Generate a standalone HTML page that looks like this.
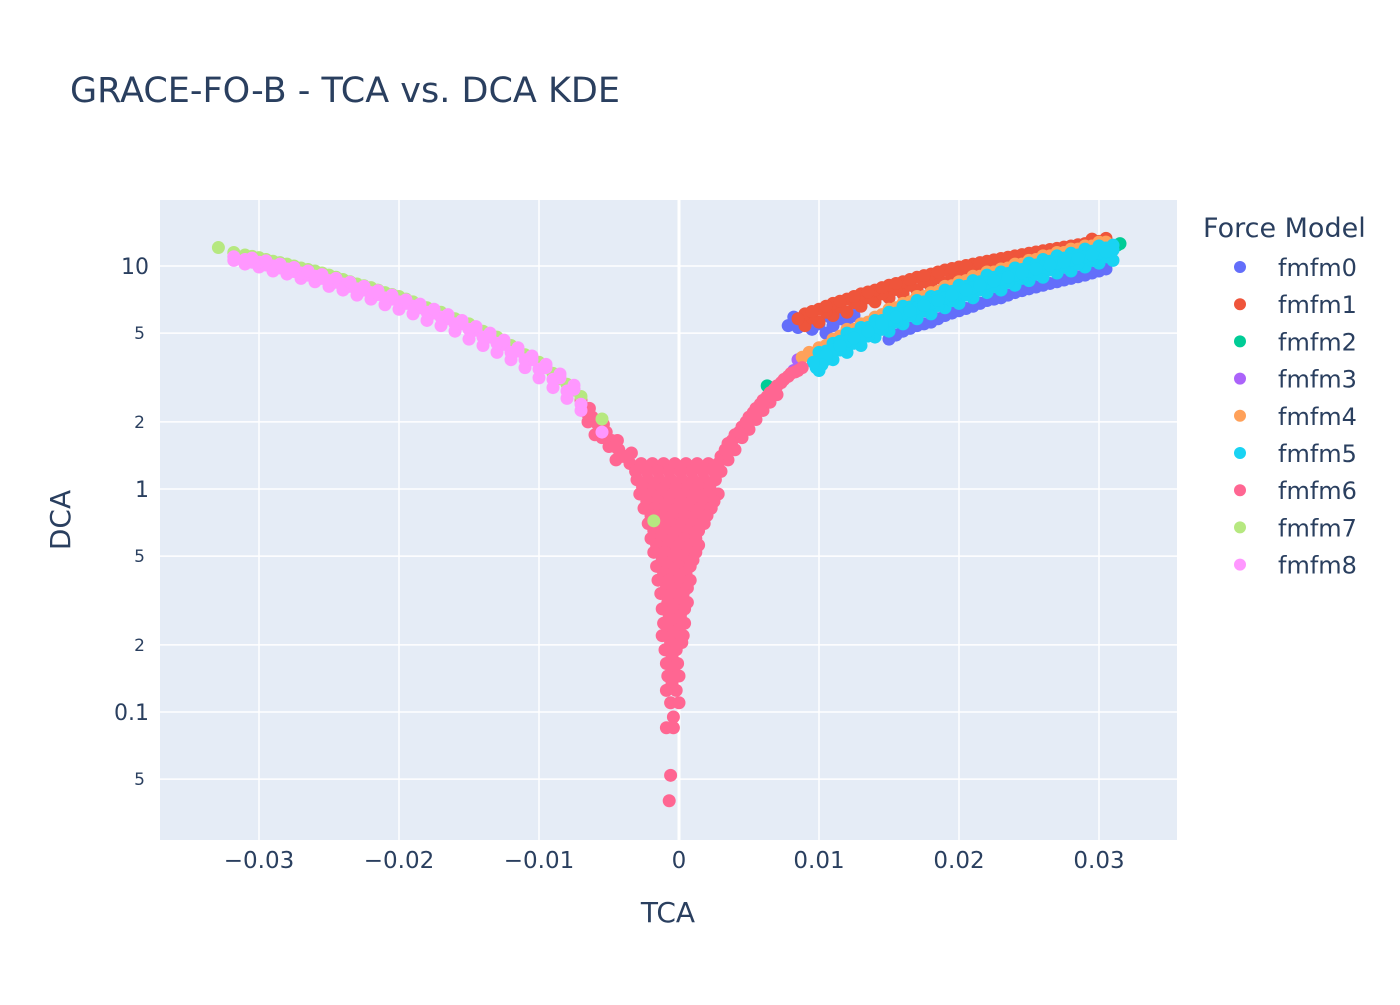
<!DOCTYPE html>
<html><head><meta charset="utf-8"><style>
body{margin:0;background:#fff;}
svg text{font-family:"DejaVu Sans","Liberation Sans",sans-serif;fill:#2a3f5f;}
</style></head><body>
<svg id="chart" width="1400" height="1000" xmlns="http://www.w3.org/2000/svg">
<rect width="1400" height="1000" fill="#fff"/>
<text x="70" y="102" font-size="35">GRACE-FO-B - TCA vs. DCA KDE</text>
<rect x="160" y="200" width="1017" height="640" fill="#E5ECF6"/>
<g id="grid"></g><g id="marks"></g><g id="ticks"></g>
<text x="668" y="922" font-size="28" text-anchor="middle">TCA</text>
<text x="70" y="520" font-size="28" text-anchor="middle" transform="rotate(-90 70 520)">DCA</text>
<g id="legend"><text x="1203" y="237" font-size="27">Force Model</text></g>
</svg>
<script>
const seriesNames=["fmfm0","fmfm1","fmfm2","fmfm3","fmfm4","fmfm5","fmfm6","fmfm7","fmfm8"];
const colors=["#636efa","#EF553B","#00cc96","#ab63fa","#FFA15A","#19d3f3","#FF6692","#B6E880","#FF97FF"];
const xTicks=[-0.03,-0.02,-0.01,0,0.01,0.02,0.03];
const xTickLabels=["−0.03","−0.02","−0.01","0","0.01","0.02","0.03"];
const yTicks=[10,5,2,1,0.5,0.2,0.1,0.05];
const yTickLabels=["10","5","2","1","5","2","0.1","5"];
const yTickMajor=[true,false,false,true,false,false,true,false];

const gridT=[0.009,0.010,0.011,0.012,0.013,0.014,0.015,0.016,0.017,0.018,0.019,0.020,0.021,0.022,0.023,0.024,0.025,0.026,0.027,0.028,0.029,0.030];
const gridTHalf=[0.0095,0.0105,0.0115,0.0125,0.0135,0.0145,0.0155,0.0165,0.0175,0.0185,0.0195,0.0205,0.0215,0.0225,0.0235,0.0245,0.0255,0.0265,0.0275,0.0285,0.0295,0.0305];
const cyanT=[0.010,0.011,0.012,0.013,0.014,0.015,0.016,0.017,0.018,0.019,0.020,0.021,0.022,0.023,0.024,0.025,0.026,0.027,0.028,0.029,0.030,0.031];
const cyanTHalf=[0.0105,0.0115,0.0125,0.0135,0.0145,0.0155,0.0165,0.0175,0.0185,0.0195,0.0205,0.0215,0.0225,0.0235,0.0245,0.0255,0.0265,0.0275,0.0285,0.0295,0.0305];
const fmfm0Cluster=[[0.0078,5.4],[0.0082,5.9],[0.0088,5.6],[0.0095,5.2],[0.0105,5.0],[0.011,5.4],[0.0115,5.8],[0.012,5.6],[0.0125,6.0],[0.0092,6.0],[0.0085,5.3],[0.010,5.5],[0.0108,5.9]];
const fmfm0T=[0.015,0.016,0.017,0.018,0.019,0.020,0.021,0.022,0.023,0.024,0.025,0.026,0.027,0.028,0.029,0.030];
const fmfm0D=[4.7,5.1,5.4,5.6,6.0,6.3,6.6,7.0,7.2,7.6,7.9,8.2,8.5,8.8,9.1,9.5];
const fmfm0THalf=[0.0155,0.0165,0.0175,0.0185,0.0195,0.0205,0.0215,0.0225,0.0235,0.0245,0.0255,0.0265,0.0275,0.0285,0.0295,0.0305];
const fmfm0DHalf=[4.9,5.25,5.5,5.8,6.15,6.45,6.8,7.1,7.4,7.75,8.05,8.35,8.65,8.95,9.3,9.7];
const fmfm0Upper=[6.0,6.3,6.6,7.0,7.3,7.6,8.0,8.3,8.6,8.9,9.2,9.5,9.8,10.1,10.4,10.7];
const fmfm1Hi=[6.1,6.4,6.8,7.1,7.5,7.8,8.2,8.5,8.9,9.2,9.6,9.9,10.2,10.5,10.8,11.1,11.4,11.7,12.0,12.3,12.6,12.9];
const fmfm1Lo=[5.4,5.6,6.0,6.2,6.6,6.9,7.2,7.5,7.8,8.1,8.4,8.7,9.0,9.2,9.5,9.8,10.0,10.3,10.6,10.8,11.1,11.4];
const fmfm1HiHalf=[6.25,6.6,6.95,7.3,7.65,8.0,8.35,8.7,9.05,9.4,9.75,10.05,10.35,10.65,10.95,11.25,11.55,11.85,12.15,12.45,12.75,13.1];
const fmfm1MidHalf=[5.85,6.2,6.55,6.85,7.2,7.5,7.85,8.2,8.5,8.85,9.15,9.45,9.75,10.0,10.3,10.6,10.85,11.15,11.4,11.7,12.0,12.3];
const fmfm1Extra=[[0.0305,13.3],[0.0085,5.8],[0.0295,13.2]];
const fmfm2Points=[[0.0063,2.9],[0.0315,12.6],[0.0313,12.4]];
const fmfm3Points=[[0.0085,3.8],[0.0082,3.4],[0.0095,3.9]];
const fmfm4D=[4.3,4.7,5.2,5.5,5.9,6.4,6.8,7.3,7.6,8.1,8.5,9.0,9.4,9.7,10.2,10.6,11.1,11.5,11.9,12.3,12.8];
const fmfm4DHalf=[4.4,4.85,5.2,5.6,6.05,6.5,6.9,7.3,7.7,8.15,8.6,9.0,9.4,9.8,10.2,10.7,11.1,11.5,11.9,12.3,12.8];
const fmfm4Extra=[[0.0088,3.9],[0.0093,4.1]];
const fmfm5Mid=[3.8,4.2,4.6,4.9,5.3,5.7,6.1,6.5,6.8,7.2,7.6,8.0,8.4,8.7,9.1,9.5,9.9,10.3,10.6,11.0,11.4,11.8];
const fmfm5Lo=[3.4,3.8,4.1,4.4,4.8,5.1,5.5,5.8,6.1,6.5,6.8,7.2,7.6,7.8,8.2,8.6,8.9,9.3,9.5,9.9,10.3,10.6];
const fmfm5Hi=[4.1,4.5,5.0,5.3,5.7,6.2,6.6,7.0,7.3,7.8,8.2,8.6,9.1,9.4,9.8,10.3,10.7,11.1,11.4,11.9,12.3,12.4];
const fmfm5MidHalf=[4.0,4.4,4.75,5.1,5.5,5.9,6.3,6.65,7.0,7.4,7.8,8.2,8.55,8.9,9.3,9.7,10.1,10.45,10.8,11.2,11.6];
const fmfm5LoHalf=[3.8,4.2,4.5,4.85,5.2,5.6,6.0,6.3,6.65,7.0,7.4,7.8,8.1,8.45,8.8,9.2,9.6,9.9,10.25,10.6,11.0];
const fmfm5HiHalf=[4.15,4.6,4.95,5.3,5.7,6.15,6.55,6.9,7.3,7.7,8.1,8.5,8.9,9.25,9.65,10.1,10.5,10.85,11.2,11.65,12.05];
const fmfm5Extra=[[0.0098,3.5],[0.0102,3.6],[0.0096,3.7]];
const fmfm6Points=[
[-0.0035,1.3],[-0.0027,1.3],[-0.0019,1.3],[-0.0011,1.3],[-0.0003,1.3],[0.0005,1.3],[0.0013,1.3],[0.0021,1.3],
[-0.0031,1.2],[-0.0023,1.2],[-0.0015,1.2],[-0.0007,1.2],[0.0001,1.2],[0.0009,1.2],[0.0017,1.2],[0.0025,1.2],
[-0.003,1.1],[-0.0022,1.1],[-0.0014,1.1],[-0.0006,1.1],[0.0002,1.1],[0.001,1.1],[0.0018,1.1],[0.0026,1.1],
[-0.0026,1.02],[-0.0018,1.02],[-0.001,1.02],[-0.0002,1.02],[0.0006,1.02],[0.0014,1.02],[0.0022,1.02],
[-0.0028,0.95],[-0.002,0.95],[-0.0012,0.95],[-0.0004,0.95],[0.0004,0.95],[0.0012,0.95],[0.002,0.95],[0.0028,0.95],
[-0.0023,0.88],[-0.0015,0.88],[-0.0007,0.88],[0.0001,0.88],[0.0009,0.88],[0.0017,0.88],[0.0025,0.88],
[-0.0025,0.82],[-0.0017,0.82],[-0.0009,0.82],[-0.0001,0.82],[0.0007,0.82],[0.0015,0.82],[0.0023,0.82],
[-0.002,0.76],[-0.0012,0.76],[-0.0004,0.76],[0.0004,0.76],[0.0012,0.76],[0.002,0.76],
[-0.0022,0.7],[-0.0014,0.7],[-0.0006,0.7],[0.0002,0.7],[0.001,0.7],[0.0018,0.7],
[-0.0018,0.65],[-0.001,0.65],[-0.0002,0.65],[0.0006,0.65],[0.0014,0.65],
[-0.002,0.6],[-0.0012,0.6],[-0.0004,0.6],[0.0004,0.6],[0.0012,0.6],
[-0.0016,0.56],[-0.0008,0.56],[0,0.56],[0.0008,0.56],[0.0014,0.56],
[-0.0018,0.52],[-0.001,0.52],[-0.0002,0.52],[0.0006,0.52],[0.0012,0.52],
[-0.0012,0.48],[-0.0004,0.48],[0.0004,0.48],[0.001,0.48],
[-0.0016,0.45],[-0.0008,0.45],[0,0.45],[0.0008,0.45],
[-0.0011,0.42],[-0.0003,0.42],[0.0005,0.42],
[-0.0015,0.39],[-0.0007,0.39],[0.0001,0.39],[0.0008,0.39],
[-0.0009,0.36],[-0.0001,0.36],[0.0006,0.36],
[-0.0013,0.34],[-0.0005,0.34],[0.0003,0.34],
[-0.0008,0.31],[0,0.31],[0.0006,0.31],
[-0.0012,0.29],[-0.0004,0.29],[0.0004,0.29],
[-0.0007,0.27],[0.0001,0.27],
[-0.0011,0.25],[-0.0003,0.25],[0.0004,0.25],
[-0.0008,0.235],[0,0.235],
[-0.0012,0.22],[-0.0004,0.22],[0.0003,0.22],
[-0.0006,0.205],[0.0002,0.205],
[-0.001,0.19],[-0.0002,0.19],[-0.0005,0.178],
[-0.0009,0.165],[-0.0001,0.165],[-0.0004,0.155],
[-0.0008,0.145],[0,0.145],[-0.0005,0.135],[-0.0009,0.125],[-0.0002,0.125],
[-0.0006,0.11],[0,0.11],[-0.0004,0.095],[-0.0009,0.085],[-0.0004,0.085],
[-0.0006,0.052],[-0.0007,0.040],
[-0.0068,2.3],[-0.0062,2.1],[-0.0058,1.95],[-0.0052,1.8],[-0.0048,1.65],[-0.0043,1.5],[-0.004,1.4],[-0.006,1.75],[-0.005,1.55],[-0.0045,1.35],[-0.0055,1.7],[-0.0065,2.0],
[-0.0066,2.2],[-0.0056,1.85],[-0.0046,1.55],[-0.0038,1.4],[-0.0034,1.45],[-0.007,2.5],[-0.0064,2.3],[-0.0054,1.95],[-0.0044,1.65],
[0.003,1.4],[0.0035,1.6],[0.004,1.75],[0.0045,1.9],[0.005,2.1],[0.0055,2.3],[0.006,2.5],[0.0065,2.7],[0.007,2.9],[0.0075,3.1],[0.008,3.3],[0.0085,3.4],
[0.0025,1.25],[0.003,1.2],[0.0035,1.35],[0.004,1.5],[0.0045,1.7],[0.005,1.85],[0.0055,2.05],[0.006,2.25],[0.0065,2.45],[0.007,2.65],
[0.0028,1.3],[0.0033,1.5],[0.0038,1.65],[0.0043,1.8],[0.0048,2.0],[0.0053,2.2],[0.0058,2.4],[0.0063,2.6],[0.0068,2.8],[0.0073,3.0],[0.0078,3.2],[0.0083,3.35],[0.0088,3.5]];
const leftT=[-0.0318,-0.031,-0.030,-0.029,-0.028,-0.027,-0.026,-0.025,-0.024,-0.023,-0.022,-0.021,-0.020,-0.019,-0.018,-0.017,-0.016,-0.015,-0.014,-0.013,-0.012,-0.011,-0.010,-0.009,-0.008,-0.007];
const leftTHalf=[-0.0305,-0.0295,-0.0285,-0.0275,-0.0265,-0.0255,-0.0245,-0.0235,-0.0225,-0.0215,-0.0205,-0.0195,-0.0185,-0.0175,-0.0165,-0.0155,-0.0145,-0.0135,-0.0125,-0.0115,-0.0105,-0.0095,-0.0085,-0.0075];
const fmfm7D=[11.5,11.2,10.9,10.5,10.2,9.8,9.5,9.1,8.7,8.3,8.0,7.6,7.3,6.9,6.5,6.2,5.8,5.5,5.1,4.8,4.4,4.0,3.7,3.3,2.95,2.6];
const fmfm7DHalf=[11.05,10.7,10.35,10.0,9.65,9.3,8.9,8.5,8.15,7.8,7.45,7.1,6.7,6.35,6.0,5.65,5.3,4.95,4.6,4.2,3.85,3.5,3.12,2.78];
const fmfm7Extra=[[-0.0329,12.1],[-0.0055,2.06],[-0.0018,0.72]];
const fmfm8D=[11.0,10.7,10.4,10.0,9.7,9.3,9.0,8.6,8.3,7.9,7.6,7.2,6.9,6.6,6.2,5.9,5.5,5.2,4.8,4.5,4.1,3.8,3.45,3.1,2.75,2.4];
const fmfm8Lo=[10.6,10.2,9.9,9.5,9.2,8.8,8.5,8.1,7.8,7.4,7.1,6.7,6.4,6.1,5.7,5.4,5.1,4.7,4.4,4.1,3.8,3.5,3.15,2.85,2.55,2.25];
const fmfm8DHalf=[10.85,10.55,10.2,9.85,9.5,9.15,8.8,8.45,8.1,7.75,7.4,7.05,6.75,6.4,6.05,5.7,5.35,5.0,4.65,4.3,3.95,3.62,3.28,2.92];
const fmfm8LoHalf=[10.4,10.1,9.8,9.45,9.1,8.8,8.45,8.1,7.8,7.45,7.1,6.8,6.5,6.15,5.8,5.5,5.15,4.8,4.45,4.15,3.8,3.5,3.15,2.8];
const fmfm8Extra=[[-0.0055,1.8]];

const X=t=>679+t*14000;
const Y=d=>489-Math.log10(d)*223;
const NS="http://www.w3.org/2000/svg";
function mk(tag,attrs,parent){const e=document.createElementNS(NS,tag);for(const k in attrs)e.setAttribute(k,attrs[k]);parent.appendChild(e);return e;}
const grid=document.getElementById('grid'),marks=document.getElementById('marks'),ticks=document.getElementById('ticks');
xTicks.forEach((t,i)=>{
  const l=mk('line',{x1:X(t),x2:X(t),y1:200,y2:840,stroke:'#fff','stroke-width':t===0?3:1.5},grid);
  
  
  const tx=mk('text',{x:X(t),y:868,'font-size':23,'text-anchor':'middle'},ticks);tx.textContent=xTickLabels[i];
  
  
});
yTicks.forEach((d,i)=>{
  const l=mk('line',{x1:160,x2:1177,y1:Y(d),y2:Y(d),stroke:'#fff','stroke-width':1.5},grid);
  
  
  const tx=mk('text',{x:yTickMajor[i]?149:145,y:Y(d)+(yTickMajor[i]?8:6),'font-size':yTickMajor[i]?22:17,'text-anchor':'end'},ticks);tx.textContent=yTickLabels[i];
  
  
});
function dot(t,d,si){
  const c=mk('circle',{cx:X(t),cy:Y(d),r:6.5,fill:colors[si]},marks);
  
  
}
function pairs(ts,ds,si){ds.forEach((d,i)=>{if(ts[i]!==undefined)dot(ts[i],d,si);});}
function pts(arr,si){arr.forEach(p=>dot(p[0],p[1],si));}
pts(fmfm0Cluster,0);pairs(fmfm0T,fmfm0D,0);pairs(fmfm0THalf,fmfm0DHalf,0);pairs(fmfm0T,fmfm0Upper,0);
pairs(gridT,fmfm1Lo,1);pairs(gridTHalf,fmfm1MidHalf,1);pairs(gridT,fmfm1Hi,1);pairs(gridTHalf,fmfm1HiHalf,1);pts(fmfm1Extra,1);
pts(fmfm2Points,2);pts(fmfm3Points,3);
pairs(cyanT,fmfm4D,4);pairs(cyanTHalf,fmfm4DHalf,4);pts(fmfm4Extra,4);
pairs(cyanT,fmfm5Hi,5);pairs(cyanTHalf,fmfm5HiHalf,5);pairs(cyanT,fmfm5Lo,5);pairs(cyanTHalf,fmfm5LoHalf,5);pairs(cyanT,fmfm5Mid,5);pairs(cyanTHalf,fmfm5MidHalf,5);pts(fmfm5Extra,5);
pts(fmfm6Points,6);
pairs(leftT,fmfm7D,7);pairs(leftTHalf,fmfm7DHalf,7);pts(fmfm7Extra,7);
pairs(leftT,fmfm8Lo,8);pairs(leftTHalf,fmfm8LoHalf,8);pairs(leftT,fmfm8D,8);pairs(leftTHalf,fmfm8DHalf,8);pts(fmfm8Extra,8);
const lg=document.getElementById('legend');
seriesNames.forEach((n,i)=>{
  const y=268+i*37.2;
  const g=mk('g',{},lg);
  
  
  mk('circle',{cx:1240,cy:y-1,r:6,fill:colors[i]},g);
  const tx=mk('text',{x:1278,y:y+8,'font-size':24},g);tx.textContent=n;
});
</script>
</body></html>
